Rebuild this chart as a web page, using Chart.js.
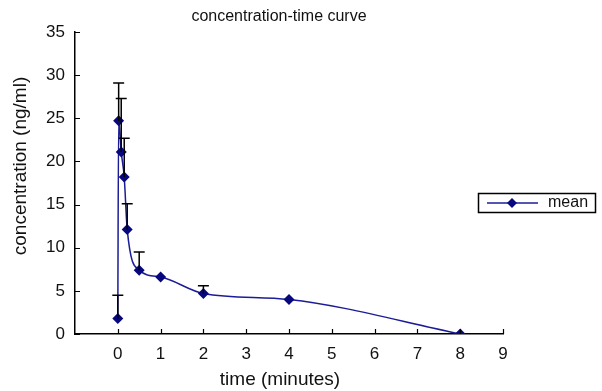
<!DOCTYPE html>
<html>
<head>
<meta charset="utf-8">
<script src="https://cdn.jsdelivr.net/npm/chart.js@4.4.1/dist/chart.umd.min.js"></script>
<style>
  html, body { margin: 0; padding: 0; background: #fff; }
  #wrap { width: 602px; height: 391px; }
</style>
</head>
<body>
<div id="wrap"><canvas id="ctChart" width="602" height="391"></canvas></div>
<script>
// Data
const timeMin = [0, 0.02, 0.08, 0.15, 0.22, 0.5, 1, 2, 4, 8];
const meanConc = [1.8, 24.7, 21.1, 18.2, 12.1, 7.4, 6.6, 4.7, 4.0, 0];
// upper end of error bars (null = no bar visible)
const upperConc = [4.5, 29.1, 27.3, 22.7, 15.1, 9.5, null, 5.6, null, null];
const xTicks = [0, 1, 2, 3, 4, 5, 6, 7, 8, 9];
const yTicks = [0, 5, 10, 15, 20, 25, 30, 35];

const lineBlue = '#1c1c98';
const navy = '#08087e';
const ink = '#111';
const fontFam = '"Liberation Sans", Arial, sans-serif';

const drawDiamond = (ctx, x, y, r) => {
    ctx.beginPath();
    ctx.moveTo(x, y - r);
    ctx.lineTo(x + r, y);
    ctx.lineTo(x, y + r);
    ctx.lineTo(x - r, y);
    ctx.closePath();
    ctx.fill();
};

// error bars, inward ticks, titles and boxed legend
const extras = {
    id: 'extras',
    afterDatasetsDraw(chart) {
        const ctx = chart.ctx;
        const xs = chart.scales.x;
        const ys = chart.scales.y;
        const area = chart.chartArea;
        ctx.save();

        // error bars
        ctx.strokeStyle = '#000';
        ctx.lineWidth = 1.5;
        upperConc.forEach((u, i) => {
            if (u === null) return;
            const px = xs.getPixelForValue(timeMin[i]);
            const y1 = ys.getPixelForValue(meanConc[i]);
            const y2 = ys.getPixelForValue(u);
            ctx.beginPath();
            ctx.moveTo(px, y1);
            ctx.lineTo(px, y2);
            ctx.moveTo(px - 5.5, y2);
            ctx.lineTo(px + 5.5, y2);
            ctx.stroke();
        });

        // ticks pointing into the plot
        ctx.lineWidth = 1.2;
        ctx.beginPath();
        yTicks.forEach(v => {
            const py = Math.round(ys.getPixelForValue(v)) + 0.5;
            ctx.moveTo(area.left, py);
            ctx.lineTo(area.left + 5, py);
        });
        xTicks.forEach(v => {
            const px = Math.round(xs.getPixelForValue(v)) + 0.5;
            ctx.moveTo(px, area.bottom);
            ctx.lineTo(px, area.bottom - 5);
        });
        ctx.stroke();

        // texts
        ctx.fillStyle = ink;
        ctx.textAlign = 'center';
        ctx.textBaseline = 'middle';
        ctx.font = '16px ' + fontFam;
        ctx.fillText('concentration-time curve', 279, 17);
        ctx.font = '19px ' + fontFam;
        ctx.fillText('time (minutes)', 280, 380);
        ctx.save();
        ctx.translate(21, 166);
        ctx.rotate(-Math.PI / 2);
        ctx.fillText('concentration (ng/ml)', 0, 0);
        ctx.restore();

        // legend
        ctx.strokeStyle = '#000';
        ctx.lineWidth = 1.5;
        ctx.strokeRect(478.5, 193.5, 117, 19);
        ctx.strokeStyle = lineBlue;
        ctx.beginPath();
        ctx.moveTo(487, 203);
        ctx.lineTo(538, 203);
        ctx.stroke();
        ctx.fillStyle = navy;
        drawDiamond(ctx, 512, 203, 5);
        ctx.fillStyle = ink;
        ctx.textAlign = 'left';
        ctx.font = '16px ' + fontFam;
        ctx.fillText('mean', 548, 203);

        ctx.restore();
    }
};

const ctx = document.getElementById('ctChart').getContext('2d');
const ctChart = new Chart(ctx, {
    type: 'line',
    data: {
        datasets: [{
            label: 'mean',
            data: timeMin.map((t, i) => ({ x: t, y: meanConc[i] })),
            borderColor: lineBlue,
            backgroundColor: navy,
            borderWidth: 1.5,
            pointStyle: 'rectRot',
            pointRadius: 5.5,
            pointBackgroundColor: navy,
            pointBorderColor: navy,
            pointBorderWidth: 0,
            cubicInterpolationMode: 'monotone',
            fill: false
        }]
    },
    options: {
        responsive: false,
        animation: false,
        events: [],
        layout: { padding: { top: 32, right: 99, left: 0, bottom: 0 } },
        plugins: {
            legend: { display: false },
            title: { display: false },
            tooltip: { enabled: false }
        },
        scales: {
            x: {
                type: 'linear',
                min: -1,
                max: 9,
                afterFit: (s) => { s.height = 57; },
                afterBuildTicks: (s) => { s.ticks = xTicks.map(v => ({ value: v })); },
                grid: { display: true, drawOnChartArea: false, drawTicks: false },
                border: { display: true, color: '#000', width: 1.5 },
                ticks: { color: ink, padding: 10, font: { family: fontFam, size: 17 } }
            },
            y: {
                min: 0,
                max: 35,
                afterFit: (s) => { s.width = 75; },
                afterBuildTicks: (s) => { s.ticks = yTicks.map(v => ({ value: v })); },
                grid: { display: true, drawOnChartArea: false, drawTicks: false },
                border: { display: true, color: '#000', width: 1.5 },
                ticks: { color: ink, padding: 10, font: { family: fontFam, size: 17 } }
            }
        }
    },
    plugins: [extras]
});
</script>
</body>
</html>
